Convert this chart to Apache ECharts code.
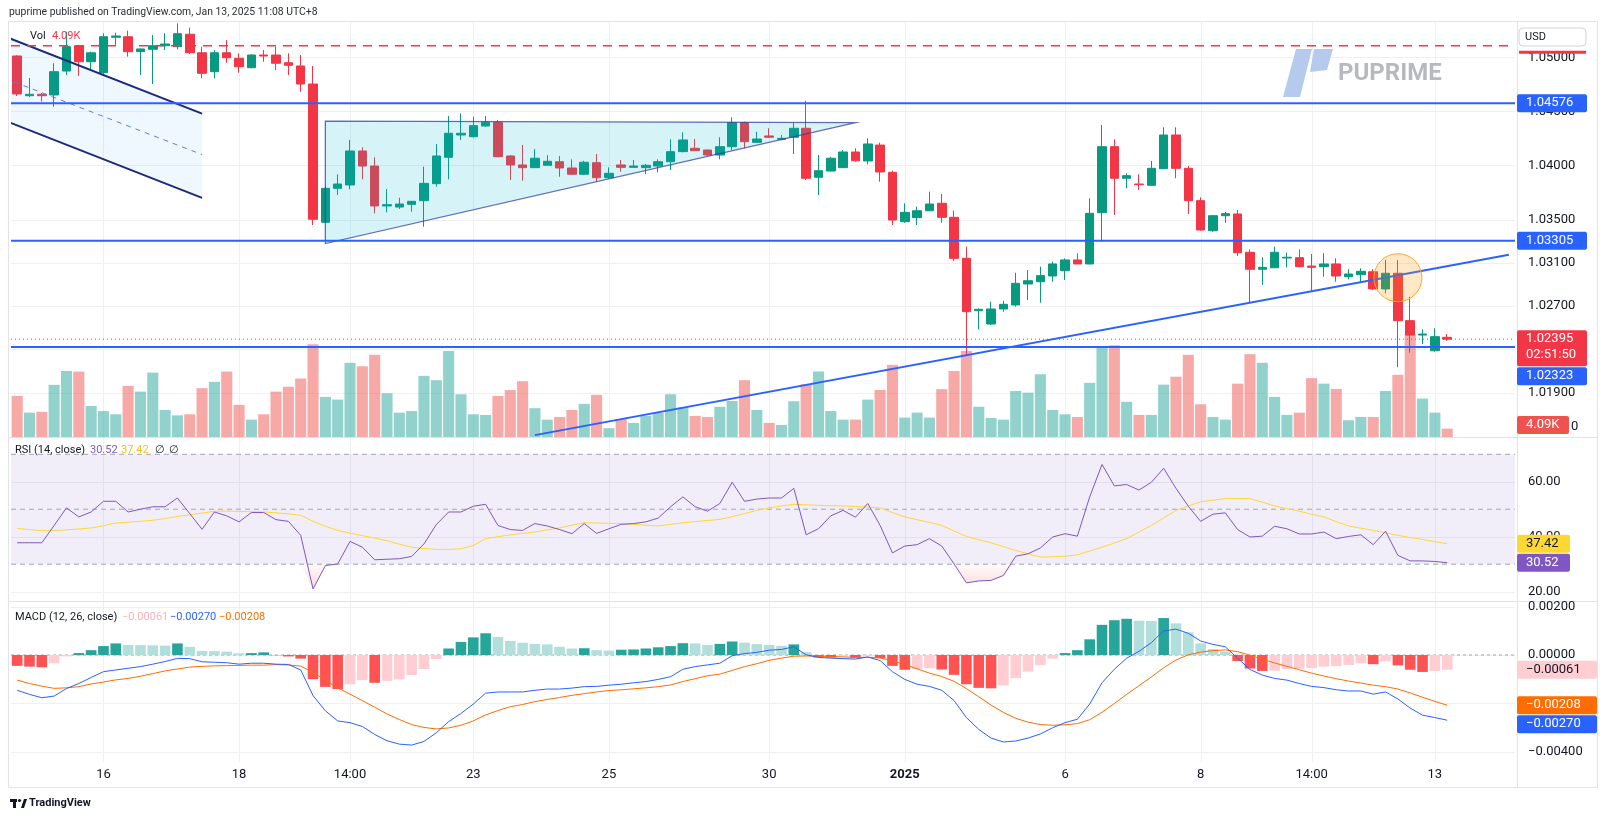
<!DOCTYPE html>
<html><head><meta charset="utf-8">
<script src="https://cdn.jsdelivr.net/npm/echarts@6/dist/echarts.min.js"></script>
<style>html,body{margin:0;padding:0;background:#fff;overflow:hidden}#chart{width:1600px;height:819px}</style>
</head><body><div id="chart"></div>
<script>
// ---------------- DATA ----------------
const opens = [
1.05012,1.04645,1.04658,1.04652,1.04873,1.05107,1.04959,1.04858,1.05185,1.05190,
1.05052,1.05074,1.05107,1.05098,1.05213,1.05042,1.04867,1.05042,1.04991,1.04904,
1.05021,1.05021,1.04950,1.04920,1.04753,1.03475,1.03789,1.03820,1.04134,1.03995,
1.03626,1.03616,1.03641,1.03675,1.03832,1.04076,1.04282,1.04266,1.04365,1.04399,
1.04088,1.04005,1.03980,1.04002,1.04035,1.03977,1.03919,1.04026,1.03887,1.04005,
1.03983,1.03980,1.03995,1.04035,1.04128,1.04159,1.04143,1.04097,1.04174,1.04396,
1.04214,1.04273,1.04242,1.04261,1.04344,1.03891,1.03949,1.03980,1.04125,1.04042,
1.04189,1.03937,1.03481,1.03518,1.03582,1.03651,1.03521,1.03142,1.02658,1.02535,
1.02674,1.02711,1.02905,1.02926,1.02979,1.03028,1.03127,1.03090,1.03564,1.04174,
1.03882,1.03829,1.03817,1.03970,1.04282,1.03974,1.03675,1.03397,1.03536,1.03552,
1.03198,1.03041,1.03055,1.03145,1.03148,1.03071,1.03065,1.03090,1.02972,1.02991,
1.03018,1.02859,1.03004,1.02566,1.02433,1.02288,1.02412];
const highs = [
1.05020,1.04809,1.04670,1.04945,1.05237,1.05115,1.05052,1.05222,1.05227,1.05246,
1.05080,1.05206,1.05222,1.05314,1.05274,1.05098,1.05067,1.05160,1.05037,1.05028,
1.05067,1.05098,1.05037,1.05021,1.04920,1.03810,1.03919,1.04236,1.04168,1.04076,
1.03783,1.03702,1.03670,1.03989,1.04199,1.04457,1.04482,1.04451,1.04457,1.04420,
1.04097,1.04189,1.04153,1.04094,1.04088,1.04057,1.04044,1.04106,1.03983,1.04051,
1.04051,1.04014,1.04057,1.04242,1.04307,1.04245,1.04146,1.04261,1.04445,1.04405,
1.04312,1.04344,1.04282,1.04396,1.04599,1.04097,1.04081,1.04143,1.04159,1.04251,
1.04211,1.03952,1.03651,1.03619,1.03758,1.03737,1.03582,1.03250,1.02680,1.02741,
1.02750,1.03009,1.03034,1.03065,1.03111,1.03142,1.03189,1.03697,1.04374,1.04242,
1.03928,1.03919,1.04042,1.04353,1.04353,1.03995,1.03706,1.03543,1.03570,1.03589,
1.03225,1.03152,1.03250,1.03194,1.03225,1.03182,1.03189,1.03142,1.03041,1.03050,
1.03041,1.03127,1.03127,1.02787,1.02486,1.02495,1.02443];
const lows = [
1.04642,1.04633,1.04590,1.04543,1.04836,1.04827,1.04883,1.04846,1.05114,1.05006,
1.04836,1.04753,1.05067,1.05074,1.05030,1.04806,1.04806,1.04950,1.04858,1.04898,
1.04959,1.04883,1.04836,1.04682,1.03450,1.03466,1.03727,1.03780,1.03872,1.03558,
1.03567,1.03598,1.03573,1.03434,1.03804,1.03872,1.04236,1.04260,1.04359,1.04076,
1.03866,1.03859,1.03977,1.04000,1.03896,1.03912,1.03912,1.03850,1.03878,1.03943,
1.03980,1.03921,1.03937,1.03958,1.04122,1.04134,1.04088,1.04057,1.04143,1.04159,
1.04211,1.04254,1.04233,1.04106,1.03866,1.03727,1.03946,1.03977,1.04035,1.04011,
1.03850,1.03450,1.03471,1.03450,1.03579,1.03471,1.03120,1.02249,1.02486,1.02526,
1.02649,1.02695,1.02757,1.02732,1.02926,1.02942,1.03090,1.03087,1.03296,1.03543,
1.03789,1.03774,1.03810,1.03967,1.03882,1.03552,1.03397,1.03388,1.03471,1.03164,
1.02732,1.02896,1.03052,1.03059,1.03059,1.02834,1.02972,1.02926,1.02948,1.02926,
1.02850,1.02819,1.02135,1.02270,1.02350,1.02279,1.02381];
const closes = [
1.04661,1.04658,1.04645,1.04867,1.05098,1.04959,1.05042,1.05190,1.05197,1.05052,
1.05077,1.05107,1.05123,1.05218,1.05042,1.04852,1.05042,1.04996,1.04913,1.05021,
1.05012,1.04945,1.04926,1.04753,1.03503,1.03789,1.03829,1.04134,1.03995,1.03626,
1.03638,1.03644,1.03669,1.03835,1.04088,1.04298,1.04298,1.04368,1.04399,1.04081,
1.04005,1.03980,1.04067,1.04039,1.03977,1.03919,1.04030,1.03887,1.03928,1.03983,
1.03995,1.04002,1.04035,1.04128,1.04236,1.04137,1.04097,1.04174,1.04396,1.04220,
1.04245,1.04261,1.04251,1.04344,1.03882,1.03952,1.04067,1.04125,1.04044,1.04199,
1.03940,1.03496,1.03567,1.03582,1.03644,1.03521,1.03142,1.02649,1.02671,1.02674,
1.02717,1.02911,1.02935,1.02982,1.03090,1.03127,1.03090,1.03558,1.04174,1.03882,
1.03906,1.03823,1.03974,1.04282,1.03974,1.03675,1.03404,1.03536,1.03555,1.03194,
1.03041,1.03059,1.03198,1.03152,1.03065,1.03059,1.03090,1.02979,1.02997,1.03022,
1.02859,1.03004,1.02566,1.02433,1.02442,1.02418,1.02395];
const volumesK = [
20.1,11.9,12.3,25.5,32.3,32.0,15.2,12.7,11.1,25.0,
22.2,31.5,13.2,10.6,11.1,23.9,27.0,32.0,15.7,8.5,
11.1,22.2,24.6,28.6,45.4,19.6,18.3,36.3,34.6,40.2,
21.4,11.9,12.7,29.9,27.8,42.1,20.9,11.1,10.8,20.1,
23.0,27.3,14.1,8.5,9.8,13.2,16.2,20.6,4.3,8.7,
6.9,10.3,11.9,20.9,14.4,10.3,9.8,14.8,17.6,27.8,
13.2,6.9,5.9,17.5,25.8,32.0,12.7,8.5,8.5,18.3,
23.0,35.3,9.5,11.9,9.5,23.4,32.3,42.1,14.8,9.3,
8.5,22.5,21.7,30.7,13.2,11.1,9.8,26.5,44.4,44.9,
17.2,10.8,10.8,25.6,29.5,40.2,16.0,9.8,8.5,26.1,
40.5,36.3,19.6,10.8,11.9,28.8,26.1,23.5,8.2,9.8,
9.8,22.5,30.4,50.3,18.8,11.9,4.09];
const rsi = [
37.8,37.8,37.8,44.1,50.5,47.2,49.0,52.9,52.9,49.0,
50.0,50.9,50.9,54.1,48.4,42.7,49.0,47.6,45.4,48.8,
48.8,46.2,45.6,40.5,21.0,29.5,30.1,38.3,36.2,31.6,
31.8,32.0,32.8,37.4,44.4,49.0,49.0,51.1,51.8,44.1,
42.6,42.3,44.8,43.9,42.6,41.1,44.8,41.2,42.9,44.5,
44.8,45.4,46.8,50.9,54.5,50.9,49.3,52.1,59.8,52.9,
53.7,54.1,54.1,57.6,40.7,42.9,47.6,49.6,47.1,52.1,
44.1,34.1,36.6,37.1,39.3,36.6,30.1,23.2,23.9,24.1,
25.9,32.9,33.8,35.9,39.9,41.1,40.2,54.5,66.3,58.5,
59.0,57.0,59.8,64.9,57.6,51.1,45.6,48.2,48.7,42.6,
39.9,40.2,43.8,42.9,41.0,41.0,41.7,39.3,40.1,40.7,
37.1,42.0,33.2,31.2,31.2,31.0,30.52];
const rsiMA = [
43.0,42.6,42.2,42.3,42.5,42.8,43.2,44.0,45.0,45.3,
45.6,46.0,46.6,47.4,48.0,48.6,49.3,49.3,49.2,49.1,
49.0,48.7,48.3,47.8,45.6,43.8,42.3,41.3,40.4,39.5,
38.5,37.3,36.2,35.7,35.4,35.4,35.6,36.8,39.3,40.0,
40.7,41.2,41.7,42.5,43.2,44.2,45.1,45.0,44.9,44.8,
44.5,44.2,43.9,44.5,45.1,45.5,45.9,46.3,47.3,48.4,
49.6,50.5,51.2,51.8,51.6,51.4,51.3,51.2,51.0,50.8,
50.5,48.8,47.2,46.2,45.2,44.1,42.1,40.1,38.9,37.8,
36.4,35.0,33.8,32.6,32.7,32.9,33.4,34.8,36.2,37.7,
39.3,41.7,44.1,46.8,49.6,51.2,52.7,53.3,53.9,53.9,
53.9,52.6,51.2,50.2,49.3,48.2,47.2,45.5,43.9,43.1,
42.3,41.4,40.5,39.7,39.0,38.2,37.42];
const macdLine = [
-0.00146,-0.00163,-0.00177,-0.00170,-0.00139,-0.00118,-0.00093,-0.00069,-0.00062,-0.00055,
-0.00048,-0.00038,-0.00027,-0.00014,-0.00015,-0.00028,-0.00030,-0.00032,-0.00038,-0.00034,
-0.00034,-0.00038,-0.00039,-0.00062,-0.00168,-0.00231,-0.00273,-0.00280,-0.00296,-0.00329,
-0.00355,-0.00369,-0.00373,-0.00358,-0.00322,-0.00276,-0.00242,-0.00203,-0.00158,-0.00153,
-0.00153,-0.00153,-0.00146,-0.00141,-0.00141,-0.00137,-0.00131,-0.00130,-0.00125,-0.00121,
-0.00115,-0.00110,-0.00101,-0.00090,-0.00059,-0.00048,-0.00041,-0.00034,-0.00003,0.00006,
0.00011,0.00020,0.00023,0.00034,0.00001,-0.00010,-0.00013,-0.00015,-0.00017,-0.00008,
-0.00023,-0.00069,-0.00101,-0.00121,-0.00130,-0.00146,-0.00189,-0.00259,-0.00308,-0.00344,
-0.00360,-0.00356,-0.00344,-0.00327,-0.00301,-0.00280,-0.00266,-0.00203,-0.00115,-0.00059,
-0.00013,0.00015,0.00051,0.00100,0.00107,0.00090,0.00058,0.00044,0.00034,-0.00013,
-0.00060,-0.00083,-0.00097,-0.00104,-0.00118,-0.00130,-0.00135,-0.00144,-0.00149,-0.00149,
-0.00162,-0.00153,-0.00182,-0.00220,-0.00249,-0.00259,-0.00270];
const signalLine = [
-0.00104,-0.00118,-0.00129,-0.00138,-0.00136,-0.00131,-0.00120,-0.00112,-0.00103,-0.00097,
-0.00088,-0.00077,-0.00066,-0.00058,-0.00050,-0.00047,-0.00045,-0.00044,-0.00043,-0.00042,
-0.00042,-0.00040,-0.00041,-0.00046,-0.00072,-0.00104,-0.00136,-0.00162,-0.00189,-0.00216,
-0.00244,-0.00267,-0.00288,-0.00300,-0.00306,-0.00302,-0.00291,-0.00273,-0.00248,-0.00230,
-0.00214,-0.00205,-0.00193,-0.00184,-0.00176,-0.00167,-0.00160,-0.00153,-0.00147,-0.00144,
-0.00140,-0.00136,-0.00131,-0.00124,-0.00110,-0.00098,-0.00086,-0.00079,-0.00064,-0.00048,
-0.00036,-0.00022,-0.00013,-0.00005,-0.00004,-0.00005,-0.00006,-0.00008,-0.00010,-0.00010,
-0.00012,-0.00024,-0.00040,-0.00057,-0.00075,-0.00089,-0.00109,-0.00139,-0.00173,-0.00207,
-0.00238,-0.00262,-0.00278,-0.00288,-0.00291,-0.00289,-0.00284,-0.00268,-0.00237,-0.00201,
-0.00163,-0.00127,-0.00091,-0.00053,-0.00021,0.00001,0.00012,0.00018,0.00021,0.00014,
-0.00001,-0.00017,-0.00033,-0.00047,-0.00061,-0.00075,-0.00087,-0.00098,-0.00108,-0.00116,
-0.00125,-0.00131,-0.00141,-0.00157,-0.00175,-0.00192,-0.00208];
const histogram = [
-0.00045,-0.00048,-0.00051,-0.00034,-0.00006,0.00008,0.00020,0.00037,0.00048,0.00042,
0.00041,0.00040,0.00039,0.00048,0.00034,0.00017,0.00016,0.00014,0.00007,0.00008,
0.00011,-0.00001,-0.00006,-0.00015,-0.00100,-0.00132,-0.00141,-0.00121,-0.00104,-0.00115,
-0.00107,-0.00101,-0.00083,-0.00058,-0.00017,0.00027,0.00054,0.00073,0.00090,0.00075,
0.00058,0.00051,0.00046,0.00044,0.00034,0.00027,0.00028,0.00020,0.00018,0.00022,
0.00023,0.00027,0.00032,0.00037,0.00049,0.00048,0.00042,0.00046,0.00056,0.00051,
0.00045,0.00042,0.00038,0.00044,0.00012,-0.00010,-0.00011,-0.00006,-0.00013,-0.00006,
-0.00013,-0.00045,-0.00061,-0.00059,-0.00055,-0.00060,-0.00082,-0.00121,-0.00136,-0.00138,
-0.00126,-0.00096,-0.00069,-0.00042,-0.00015,0.00008,0.00020,0.00065,0.00125,0.00144,
0.00150,0.00142,0.00141,0.00153,0.00131,0.00094,0.00048,0.00025,0.00014,-0.00025,
-0.00056,-0.00066,-0.00065,-0.00059,-0.00057,-0.00054,-0.00048,-0.00046,-0.00041,-0.00034,
-0.00038,-0.00026,-0.00043,-0.00061,-0.00070,-0.00066,-0.00061];

// time-axis labels (bar index -> text)
const tickIdx  = [7, 18, 27, 37, 48, 61, 72, 85, 96, 105, 115];
const tickText = ['16','18','14:00','23','25','30','2025','6','8','14:00','13'];
// scale tick labels
const priceTicks = [1.05, 1.045, 1.04, 1.035, 1.031, 1.027, 1.023, 1.019];
const rsiTicks = [60, 40, 20];
const macdTicks = [0.002, 0, -0.002, -0.004];
// drawings (bar index, price)
const levels = [1.04576, 1.03305, 1.02323];
const redDashLevel = 1.05107;
const lastPrice = 1.02395;
const countdown = '02:51:50';
const channelTop = [[-1, 1.05192], [15, 1.04480]];
const channelMid = [[-1, 1.04805], [15, 1.04101]];
const channelBottom = [[-1, 1.04415], [15, 1.03701]];
const triangle = [[25, 1.04411], [68, 1.04397], [25, 1.03279]];
const trendLine = [[42, 1.01508], [121, 1.03176]];
const circleCenter = [112, 1.02963];

// ---------------- CHART ----------------
const FONT = "Roboto, 'Noto Sans', sans-serif";
const SLOTS = 122;
const cats = Array.from({length: SLOTS}, (_, i) => String(i));
const UP = '#089981', DOWN = '#f23645';
const GRIDC = '#eef0f4';
const n = closes.length;

const chart = echarts.init(document.getElementById('chart'), null, {renderer: 'canvas'});

const candleData = opens.map((o, i) => [o, closes[i], lows[i], highs[i]]);
const volData = volumesK.map((v, i) => ({value: v, itemStyle: {color: closes[i] >= opens[i] ? 'rgba(38,166,154,0.5)' : 'rgba(239,83,80,0.5)'}}));
const histData = histogram.map((v, i) => {
  const prev = i > 0 ? histogram[i - 1] : v;
  let c;
  if (v >= 0) c = (i === 0 || v > prev) ? '#26a69a' : '#b2dfdb';
  else c = (i === 0 || v < prev) ? '#ff5252' : '#ffcdd2';
  return {value: v, itemStyle: {color: c}};
});

function gridDecor(xi, yi, yTicks, extra) {
  return {
    type: 'custom', xAxisIndex: xi, yAxisIndex: yi, z: 0, silent: true,
    data: [[0, yTicks[1]]],
    renderItem: (params, api) => {
      const cs = params.coordSys;
      const kids = [];
      yTicks.forEach(v => {
        const y = Math.round(api.coord([0, v])[1]) + 0.5;
        kids.push({type: 'line', shape: {x1: cs.x, y1: y, x2: cs.x + cs.width, y2: y}, style: {stroke: GRIDC, lineWidth: 1}});
      });
      tickIdx.forEach(i => {
        const x = Math.round(api.coord([i, yTicks[1]])[0]) + 0.5;
        kids.push({type: 'line', shape: {x1: x, y1: cs.y, x2: x, y2: cs.y + cs.height}, style: {stroke: GRIDC, lineWidth: 1}});
      });
      if (extra) extra(api, cs, kids);
      return {type: 'group', children: kids};
    }
  };
}

function seg(api, pts, color, w, dash) {
  const a = api.coord(pts[0]), b = api.coord(pts[1]);
  return {type: 'line', shape: {x1: a[0], y1: a[1], x2: b[0], y2: b[1]}, style: {stroke: color, lineWidth: w, lineDash: dash || null}};
}
function hseg(api, cs, v, color, w, dash) {
  const y = api.coord([0, v])[1];
  return {type: 'line', shape: {x1: cs.x, y1: y, x2: cs.x + cs.width, y2: y}, style: {stroke: color, lineWidth: w, lineDash: dash || null}};
}

const option = {
  animation: false,
  backgroundColor: '#ffffff',
  textStyle: {fontFamily: FONT},
  grid: [
    {left: 11, width: 1504, top: 22, height: 415, containLabel: false, outerBoundsMode: 'none'},
    {left: 11, width: 1504, top: 437, height: 164, containLabel: false, outerBoundsMode: 'none'},
    {left: 11, width: 1504, top: 601, height: 161, containLabel: false, outerBoundsMode: 'none'}
  ],
  xAxis: [0, 1, 2].map(g => ({
    type: 'category', gridIndex: g, data: cats, boundaryGap: true,
    axisLine: {show: false}, axisTick: {show: false}, splitLine: {show: false},
    axisLabel: g < 2 ? {show: false} : {
      show: true, margin: 6, color: '#131722', fontSize: 13, fontFamily: FONT,
      interval: (idx) => tickIdx.indexOf(idx) >= 0,
      formatter: (val, idx) => {
        const k = tickIdx.indexOf(idx);
        const t = k >= 0 ? tickText[k] : '';
        return t === '2025' ? '{b|2025}' : t;
      },
      rich: {b: {fontWeight: 'bold', fontSize: 13, color: '#131722', fontFamily: FONT}}
    }
  })),
  yAxis: [
    {type: 'value', gridIndex: 0, min: 1.014908, max: 1.053262, show: false},
    {type: 'value', gridIndex: 0, min: 0, max: 203, show: false},
    {type: 'value', gridIndex: 1, min: 16.6, max: 76.3, show: false},
    {type: 'value', gridIndex: 2, min: -0.00443, max: 0.002236, show: false}
  ],
  series: [
    gridDecor(0, 0, priceTicks),
    gridDecor(1, 2, rsiTicks, (api, cs, kids) => {
      const y70 = api.coord([0, 70])[1], y30 = api.coord([0, 30])[1];
      kids.push({type: 'rect', shape: {x: cs.x, y: y70, width: cs.width, height: y30 - y70}, style: {fill: 'rgba(126,87,194,0.1)'}});
      [70, 50, 30].forEach(v => kids.push(hseg(api, cs, v, '#a3a6af', 1, [5, 4])));
    }),
    gridDecor(2, 3, macdTicks, (api, cs, kids) => {
      kids.push(hseg(api, cs, 0, '#a3a6af', 1, [3, 3]));
    }),
    {
      name: 'Volume', type: 'bar', xAxisIndex: 0, yAxisIndex: 1, data: volData,
      barCategoryGap: '10%', z: 1, silent: true
    },
    {
      name: 'EURUSD', type: 'candlestick', xAxisIndex: 0, yAxisIndex: 0, data: candleData,
      barWidth: 9, z: 3, silent: true,
      itemStyle: {color: UP, color0: DOWN, borderColor: UP, borderColor0: DOWN, borderWidth: 1}
    },
    {
      type: 'custom', xAxisIndex: 0, yAxisIndex: 0, z: 6, silent: true, clip: true,
      data: [[0, 1.03]],
      renderItem: (params, api) => {
        const cs = params.coordSys;
        const P = p => api.coord(p);
        const kids = [];
        kids.push({type: 'polygon', shape: {points: [P(channelTop[0]), P(channelTop[1]), P(channelBottom[1]), P(channelBottom[0])]}, style: {fill: 'rgba(33,150,243,0.07)'}});
        kids.push(seg(api, channelTop, '#1c2a7e', 2));
        kids.push(seg(api, channelBottom, '#1c2a7e', 2));
        kids.push(seg(api, channelMid, '#5b7de8', 1, [5, 5]));
        kids.push({type: 'polygon', shape: {points: triangle.map(P)}, style: {fill: 'rgba(0,188,212,0.16)', stroke: 'rgba(48,63,159,0.75)', lineWidth: 1.3}});
        kids.push(seg(api, trendLine, '#2962ff', 2));
        levels.forEach(v => kids.push(hseg(api, cs, v, '#2962ff', 2)));
        kids.push(hseg(api, cs, redDashLevel, '#f23645', 1.5, [9, 7]));
        kids.push(hseg(api, cs, lastPrice, '#f23645', 1, [1, 3]));
        const c = P(circleCenter);
        kids.push({type: 'circle', shape: {cx: c[0], cy: c[1], r: 24}, style: {fill: 'rgba(255,152,0,0.22)', stroke: '#ffa726', lineWidth: 1}});
        return {type: 'group', children: kids,
          clipPath: {type: 'rect', shape: {x: cs.x, y: cs.y, width: cs.width, height: cs.height}}};
      }
    },
    {
      name: 'Oversold', type: 'line', xAxisIndex: 1, yAxisIndex: 2, z: 2, silent: true,
      data: rsi.map(v => Math.min(v, 30)), showSymbol: false, symbol: 'none',
      lineStyle: {width: 0, opacity: 0},
      areaStyle: {origin: 30, color: new echarts.graphic.LinearGradient(0, 0, 0, 1, [
        {offset: 0, color: 'rgba(242,54,69,0.03)'}, {offset: 1, color: 'rgba(242,54,69,0.28)'}])}
    },
    {name: 'RSI', type: 'line', xAxisIndex: 1, yAxisIndex: 2, z: 4, data: rsi, showSymbol: false, symbol: 'none',
      lineStyle: {color: '#7e57c2', width: 1}, silent: true},
    {name: 'RSI MA', type: 'line', xAxisIndex: 1, yAxisIndex: 2, z: 3, data: rsiMA, showSymbol: false, symbol: 'none',
      lineStyle: {color: '#fdd835', width: 1}, silent: true},
    {name: 'Histogram', type: 'bar', xAxisIndex: 2, yAxisIndex: 3, data: histData, barCategoryGap: '14%', z: 2, silent: true},
    {name: 'MACD', type: 'line', xAxisIndex: 2, yAxisIndex: 3, z: 4, data: macdLine, showSymbol: false, symbol: 'none',
      lineStyle: {color: '#2962ff', width: 1}, silent: true},
    {name: 'Signal', type: 'line', xAxisIndex: 2, yAxisIndex: 3, z: 3, data: signalLine, showSymbol: false, symbol: 'none',
      lineStyle: {color: '#ff6d00', width: 1}, silent: true}
  ]
};
chart.setOption(option);

// ---------------- TEXT / LABELS (positions through the chart's own scales) ----------------
function T(x, y, text, o) {
  o = o || {};
  return {type: 'text', x: x, y: y, z: o.z || 100, silent: true,
    style: {text: text, fill: o.fill || '#131722', font: (o.weight || 'normal') + ' ' + (o.size || 13) + 'px ' + FONT,
      align: o.align || 'left', verticalAlign: 'middle'}};
}
function R(x, y, w, h, fill, o) {
  o = o || {};
  return {type: 'rect', z: o.z || 110, silent: true, shape: {x: x, y: y, width: w, height: h, r: o.r == null ? 2 : o.r},
    style: {fill: fill, stroke: o.stroke || null, lineWidth: o.lw || 1}};
}
const yPix = (ai, v) => chart.convertToPixel({yAxisIndex: ai}, v);
const fmtM = v => (v < 0 ? '\u2212' : '') + Math.abs(v).toFixed(5);
const AX = 1517, TX = 1528, BH = 18;
const els = [];

// frame and separators
els.push({type: 'rect', z: 90, silent: true, shape: {x: 8.5, y: 21.5, width: 1589, height: 766}, style: {fill: null, stroke: '#e0e3eb', lineWidth: 1}});
[437.5, 601.5].forEach(y => els.push({type: 'line', z: 90, silent: true, shape: {x1: 8, y1: y, x2: 1597, y2: y}, style: {stroke: '#e0e3eb', lineWidth: 1}}));
els.push({type: 'line', z: 90, silent: true, shape: {x1: AX + 0.5, y1: 21, x2: AX + 0.5, y2: 787}, style: {stroke: '#e0e3eb', lineWidth: 1}});

// scale tick labels
priceTicks.forEach(v => els.push(T(TX, yPix(0, v), v.toFixed(5))));
rsiTicks.forEach(v => els.push(T(TX, yPix(2, v), v.toFixed(2))));
macdTicks.forEach(v => els.push(T(TX, yPix(3, v), fmtM(v))));
els.push(T(1571, yPix(1, 0) - 10, '0'));

// level boxes
const yLast = yPix(0, lastPrice);
const lastTop = yLast - 9, lastBottom = yLast + 27;
levels.forEach(v => {
  let yc = yPix(0, v);
  if (yc + BH / 2 > lastTop && yc - BH / 2 < lastBottom) yc = lastBottom + 1 + BH / 2;
  els.push(R(AX, yc - BH / 2, 70, BH, '#2962ff'));
  els.push(T(TX - 2, yc, v.toFixed(5), {fill: '#ffffff', z: 111}));
});
els.push(R(AX, lastTop, 70, lastBottom - lastTop, '#f23645'));
els.push(T(TX - 2, yLast, lastPrice.toFixed(5), {fill: '#ffffff', z: 111}));
els.push(T(TX - 2, yLast + 16, countdown, {fill: '#ffffff', z: 111}));
// red dashed line label (mostly hidden under the currency button)
const yRed = yPix(0, redDashLevel);
els.push(R(AX + 2, yRed + 5, 67, 3, '#f23645', {r: 0}));
els.push(R(AX + 2, 28, 67, 18, '#ffffff', {stroke: '#d1d4dc', r: 4, z: 115}));
els.push(T(1525, 37, 'USD', {size: 11, z: 116}));

// volume box
const volLast = volumesK[n - 1];
const yVol = Math.min(yPix(1, volLast), 437 - 12);
els.push(R(AX, yVol - BH / 2, 52, BH, '#ef5350'));
els.push(T(TX - 2, yVol, volLast.toFixed(2) + 'K', {fill: '#ffffff', z: 111}));

// RSI boxes
const yMA = yPix(2, rsiMA[n - 1]);
let yR = yPix(2, rsi[n - 1]);
if (yR - BH / 2 < yMA + BH / 2 + 1) yR = yMA + BH + 1;
els.push(R(AX, yMA - BH / 2, 53, BH, '#fdd835'));
els.push(T(TX - 2, yMA, rsiMA[n - 1].toFixed(2), {z: 111}));
els.push(R(AX, yR - BH / 2, 53, BH, '#7e57c2'));
els.push(T(TX - 2, yR, rsi[n - 1].toFixed(2), {fill: '#ffffff', z: 111}));

// MACD boxes
const yH = yPix(3, histogram[n - 1]);
const yS = yPix(3, signalLine[n - 1]);
let yM = yPix(3, macdLine[n - 1]);
if (yM - BH / 2 < yS + BH / 2 + 1) yM = yS + BH + 1;
els.push(R(AX, yH - BH / 2, 80, BH, '#ffcdd2'));
els.push(T(TX - 2, yH, fmtM(histogram[n - 1]), {z: 111}));
els.push(R(AX, yS - BH / 2, 80, BH, '#ff6d00'));
els.push(T(TX - 2, yS, fmtM(signalLine[n - 1]), {fill: '#ffffff', z: 111}));
els.push(R(AX, yM - BH / 2, 80, BH, '#2962ff'));
els.push(T(TX - 2, yM, fmtM(macdLine[n - 1]), {fill: '#ffffff', z: 111}));

// header and legends
els.push(T(9, 12, 'puprime published on TradingView.com, Jan 13, 2025 11:08 UTC+8', {size: 10.4, fill: '#2a2e39'}));
els.push(T(30, 36, 'Vol', {size: 11}));
els.push(T(52, 36, volLast.toFixed(2) + 'K', {size: 11, fill: '#f23645'}));
els.push(T(15, 450, 'RSI (14, close)', {size: 11}));
els.push(T(90, 450, rsi[n - 1].toFixed(2), {size: 11, fill: '#7e57c2'}));
els.push(T(121, 450, rsiMA[n - 1].toFixed(2), {size: 11, fill: '#f2c21b'}));
els.push(T(155, 450, '\u2205', {size: 11}));
els.push(T(169, 450, '\u2205', {size: 11}));
els.push(T(15, 617, 'MACD (12, 26, close)', {size: 11}));
els.push(T(122, 617, fmtM(histogram[n - 1]), {size: 11, fill: '#f7b3b9'}));
els.push(T(170, 617, fmtM(macdLine[n - 1]), {size: 11, fill: '#2962ff'}));
els.push(T(219, 617, fmtM(signalLine[n - 1]), {size: 11, fill: '#ff6d00'}));

// watermark
els.push({type: 'polygon', z: 50, silent: true, shape: {points: [[1296, 49], [1312, 49], [1300, 97], [1283, 97]]}, style: {fill: '#b5caec'}});
els.push({type: 'polygon', z: 50, silent: true, shape: {points: [[1314, 49], [1333, 49], [1327, 70], [1310, 72]]}, style: {fill: '#b5caec'}});
els.push(T(1338, 74, 'PUPRIME', {size: 24, weight: 'bold', fill: '#b7b9bf', z: 50}));

// TradingView footer
els.push({type: 'rect', z: 100, silent: true, shape: {x: 10, y: 799, width: 7, height: 3}, style: {fill: '#131722'}});
els.push({type: 'rect', z: 100, silent: true, shape: {x: 13, y: 799, width: 3, height: 9}, style: {fill: '#131722'}});
els.push({type: 'circle', z: 100, silent: true, shape: {cx: 19.5, cy: 800.5, r: 1.6}, style: {fill: '#131722'}});
els.push({type: 'polygon', z: 100, silent: true, shape: {points: [[21, 808], [24, 799], [27, 799], [24, 808]]}, style: {fill: '#131722'}});
els.push(T(29, 803, 'TradingView', {size: 11, weight: 'bold'}));

chart.setOption({graphic: {elements: els}});
</script>
</body></html>
